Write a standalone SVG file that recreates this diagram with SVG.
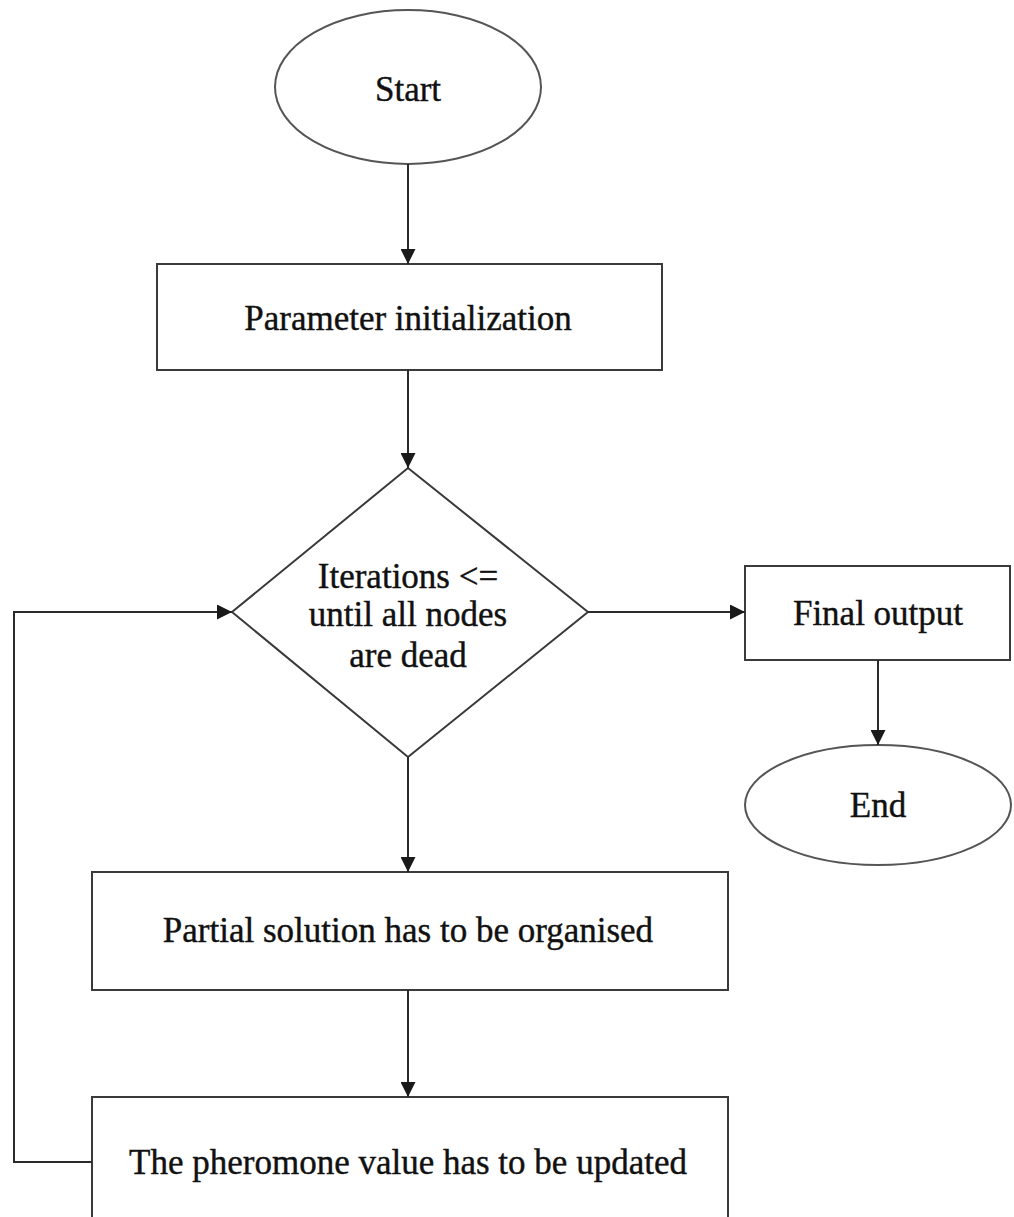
<svg xmlns="http://www.w3.org/2000/svg" width="1014" height="1217" viewBox="0 0 1014 1217">
<style>
.shape{fill:#fff;stroke:#3a3a3a;stroke-width:2}
.oval{fill:#fff;stroke:#555;stroke-width:2}
.lbl{font-family:"Liberation Serif","Times New Roman",serif;font-size:35px;fill:#111;stroke:#111;stroke-width:0.4;text-anchor:middle;dominant-baseline:central}
.conn{fill:none;stroke:#2a2a2a;stroke-width:2;marker-end:url(#ah)}
</style>
<defs>
<marker id="ah" viewBox="0 0 10 10" refX="10" refY="5" markerWidth="16" markerHeight="15" markerUnits="userSpaceOnUse" orient="auto">
<path d="M0,0 L10,5 L0,10 Z" fill="#1a1a1a"/>
</marker>
</defs>
<rect width="1014" height="1217" fill="#fff"/>
<g id="start"><ellipse class="oval" cx="408" cy="87" rx="133" ry="77"/><text class="lbl" x="408" y="89">Start</text></g>
<g id="param"><rect class="shape" x="157" y="264" width="505" height="106"/><text class="lbl" x="408" y="318">Parameter initialization</text></g>
<g id="decision"><polygon class="shape" points="408,468 588,612 408,757 232,612"/><text class="lbl" x="408" y="576">Iterations &lt;=</text><text class="lbl" x="408" y="614">until all nodes</text><text class="lbl" x="408" y="655">are dead</text></g>
<g id="final"><rect class="shape" x="745" y="566" width="265" height="94"/><text class="lbl" x="878" y="613">Final output</text></g>
<g id="end"><ellipse class="oval" cx="878" cy="805" rx="133" ry="60"/><text class="lbl" x="878" y="805">End</text></g>
<g id="partial"><rect class="shape" x="92" y="872" width="636" height="118"/><text class="lbl" x="408" y="930">Partial solution has to be organised</text></g>
<g id="pheromone"><rect class="shape" x="92" y="1097" width="636" height="130"/><text class="lbl" x="408" y="1162">The pheromone value has to be updated</text></g>
<g id="connectors">
<path class="conn" d="M408,164 L408,264"/>
<path class="conn" d="M408,370 L408,468"/>
<path class="conn" d="M588,612 L745,612"/>
<path class="conn" d="M878,660 L878,745"/>
<path class="conn" d="M408,757 L408,872"/>
<path class="conn" d="M408,990 L408,1097"/>
<path class="conn" d="M92,1162 L14,1162 L14,612 L232,612"/>
</g>
</svg>
